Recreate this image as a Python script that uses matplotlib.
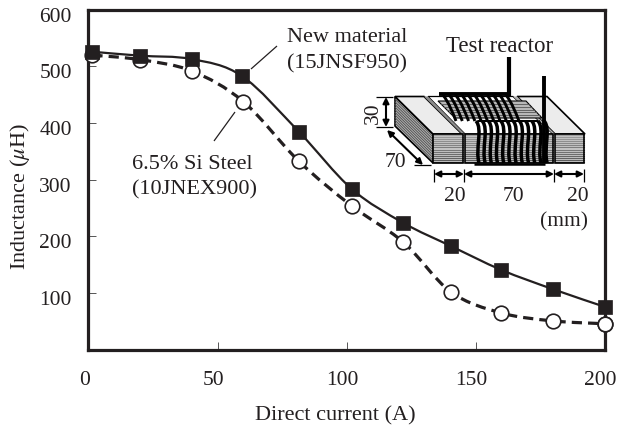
import numpy as np
import matplotlib
matplotlib.use("Agg")
import matplotlib.pyplot as plt
from matplotlib.path import Path
from matplotlib.patches import PathPatch, Polygon
from matplotlib.transforms import ScaledTranslation

plt.rcParams["font.family"] = ["Liberation Serif", "DejaVu Serif"]
plt.rcParams["mathtext.fontset"] = "stix"

# Data
current_new = [1.5, 20, 40, 59.5, 81.5, 102, 122, 140.5, 160, 180, 200]
inductance_new = [526, 519, 513, 483, 385, 284, 224, 183, 141, 107, 76]
current_si = [1.5, 20, 40, 60, 81.5, 102, 122, 140.5, 160, 180, 200]
inductance_si = [520, 512, 492, 438, 333, 254, 190, 102, 65, 51, 46]
x_ticks = [0, 50, 100, 150, 200]
y_ticks = [100, 200, 300, 400, 500, 600]

INK = "#231f20"
W, H = 617, 427
FS = 15.5


def smooth_path(xs, ys):
    # catmull-rom through the measured points, as bezier segments
    pts = np.column_stack([xs, ys]).astype(float)
    verts = [pts[0]]
    codes = [Path.MOVETO]
    for i in range(len(pts) - 1):
        p0 = pts[max(i - 1, 0)]
        p1, p2 = pts[i], pts[i + 1]
        p3 = pts[min(i + 2, len(pts) - 1)]
        verts += [p1 + (p2 - p0) / 6, p2 - (p3 - p1) / 6, p2]
        codes += [Path.CURVE4] * 3
    return Path(verts, codes)


fig = plt.figure(figsize=(W / 100, H / 100), dpi=100)
ax = fig.add_axes([88.5 / W, 1 - 350.8 / H, 516 / W, 340 / H])
ax.set_xlim(0, 200)
ax.set_ylim(0, 600)

for side in ax.spines.values():
    side.set_linewidth(2.3)
    side.set_color(INK)

ax.set_xticks(x_ticks)
ax.set_yticks(y_ticks)
ax.tick_params(direction="in", length=6, width=0.7, color="#555555",
               labelsize=FS, labelcolor=INK, pad=14.5)
ax.tick_params(axis="y", pad=12)
dx = ScaledTranslation(-4 / 100, 0, fig.dpi_scale_trans)
dy = ScaledTranslation(0, -4 / 100, fig.dpi_scale_trans)
for lab in ax.get_xticklabels():
    lab.set_transform(lab.get_transform() + dx)
for lab in ax.get_yticklabels():
    lab.set_transform(lab.get_transform() + dy)

# curves
ax.add_patch(PathPatch(smooth_path(current_si, inductance_si), fill=False,
                       ec=INK, lw=2.3, ls=(0, (3.2, 1.9)), zorder=2))
ax.add_patch(PathPatch(smooth_path(current_new, inductance_new), fill=False,
                       ec=INK, lw=1.6, zorder=3))
ax.plot(current_si, inductance_si, "o", ms=10.5, mfc="white", mec=INK, mew=1.2,
        clip_on=False, zorder=4)
ax.plot(current_new, inductance_new, "s", ms=9.5, mfc=INK, mec=INK, mew=0.5,
        clip_on=False, zorder=5)
ax.plot(current_si[-1], inductance_si[-1], "o", ms=10.5, mfc="white", mec=INK,
        mew=1.2, clip_on=False, zorder=6)

# overlay in image pixels for labels and the reactor sketch
ov = fig.add_axes([0, 0, 1, 1], zorder=10)
ov.set_xlim(0, W)
ov.set_ylim(H, 0)
ov.axis("off")


def txt(x, y, s, ha="center", size=FS, **kw):
    ov.text(x, y, s, ha=ha, va="center", fontsize=size, color=INK, **kw)


def seg(x0, y0, x1, y1, lw=1.0, color=INK, z=3):
    ov.plot([x0, x1], [y0, y1], color=color, lw=lw, solid_capstyle="butt", zorder=z)


def dbl_arrow(x0, y0, x1, y1, lw=1.5):
    ov.annotate("", xy=(x1, y1), xytext=(x0, y0),
                arrowprops=dict(arrowstyle="<|-|>", color="black", lw=lw,
                                mutation_scale=9, shrinkA=0, shrinkB=0))


txt(335, 415.5, "Direct current (A)", size=16)
txt(20, 197, r"Inductance ($\mu$H)", size=16, rotation=90)
txt(287, 37, "New material", ha="left", size=16)
txt(287, 64, "(15JNSF950)", ha="left", size=16)
txt(132, 164.5, "6.5% Si Steel", ha="left", size=16)
txt(132, 190, "(10JNEX900)", ha="left", size=16)
seg(251, 70, 277, 47, lw=0.9)
seg(214, 142, 235, 113, lw=0.9)
txt(500, 47, "Test reactor", size=16.5)


def stripes(x0, x1, y0, y1, n=14):
    ov.add_patch(Polygon([(x0, y0), (x1, y0), (x1, y1), (x0, y1)], fc="#c8c8c8", ec="none", zorder=1))
    for i in range(n):
        y = y0 + (y1 - y0) * (i + 0.5) / n
        g = 0.62 - 0.3 * i / n
        ov.plot([x0, x1], [y, y], color=(g, g, g), lw=0.8, zorder=1.2)
    ov.add_patch(Polygon([(x0, y0), (x1, y0), (x1, y1), (x0, y1)], fc="none", ec="black", lw=1.2, zorder=2))


def draw_reactor():
    # left side face with laminations
    ov.add_patch(Polygon([(395, 97.5), (433, 135), (433, 164), (395, 127)],
                         fc="#b5b5b5", ec="black", lw=1.2, zorder=1))
    for i in range(1, 11):
        off = 29 * i / 11
        ov.plot([395, 433], [97.5 + off, 135 + off], color="#555555", lw=0.7, zorder=1.2)
    # top surfaces
    ov.add_patch(Polygon([(395, 97.5), (424, 97.5), (462, 135), (433, 135)],
                         fc="#ececec", ec="black", lw=1.2, zorder=1))
    ov.add_patch(Polygon([(517, 97.5), (547, 97.5), (585, 135), (555, 135)],
                         fc="#ececec", ec="black", lw=1.2, zorder=1))
    ov.add_patch(Polygon([(428, 97.5), (513, 97.5), (553, 135), (465, 135)],
                         fc="white", ec="black", lw=0.9, zorder=1))
    # air gap bands
    ov.add_patch(Polygon([(424, 97.5), (428, 97.5), (465, 135), (462, 135)],
                         fc="#8c8c8c", ec="none", zorder=1.1))
    ov.add_patch(Polygon([(513, 97.5), (517, 97.5), (555, 135), (553, 135)],
                         fc="#b0b0b0", ec="none", zorder=1.1))
    # window with laminations between the two windings
    ov.add_patch(Polygon([(438, 102), (526, 102), (542, 119), (455, 119)],
                         fc="#b8b8b8", ec="black", lw=0.8, zorder=1.2))
    for i in range(1, 6):
        y = 102 + 17 * i / 6
        ov.plot([438 + (y - 102), 526 + (y - 102)], [y, y], color="#555555", lw=0.6, zorder=1.3)
    # front faces
    stripes(433, 463, 135, 164)
    stripes(465, 553, 135, 164)
    stripes(555, 584, 135, 164)
    # back winding
    for i in range(11):
        x = 443 + i * 6.3
        ov.add_patch(PathPatch(Path([(x, 96), (x + 6, 104), (x + 9, 112), (x + 13, 122)],
                                    [Path.MOVETO, Path.CURVE4, Path.CURVE4, Path.CURVE4]),
                               fill=False, ec="black", lw=2.1, zorder=3))
    seg(439, 95, 511, 95, lw=2.8, color="black", z=3.1)
    # front winding
    for i in range(12):
        x = 476 + i * 6.2
        ov.add_patch(PathPatch(Path([(x, 122), (x + 7, 130), (x - 1, 150), (x + 3, 164)],
                                    [Path.MOVETO, Path.CURVE4, Path.CURVE4, Path.CURVE4]),
                               fill=False, ec="black", lw=2.5, zorder=3))
    seg(474, 164.5, 545, 164.5, lw=1.8, color="black", z=3.1)
    seg(478, 122, 538, 122, lw=1.5, color="black", z=3.1)
    # leads
    seg(509, 58, 509, 97, lw=3.0, color="black", z=3.2)
    seg(544, 77, 544, 164, lw=2.8, color="black", z=3.2)
    # dimensions along the front
    for x in (434, 464, 554, 584):
        seg(x, 170, x, 183, lw=0.9, color="black")
    dbl_arrow(434, 175, 464, 175)
    dbl_arrow(464, 175, 554, 175)
    dbl_arrow(554, 175, 584, 175)
    txt(455, 196.5, "20")
    txt(513, 196.5, "70")
    txt(578, 196.5, "20")
    txt(564, 221.5, "(mm)")
    # dimensions on the left
    seg(376, 97.5, 393, 97.5, lw=0.9, color="black")
    seg(376, 128, 393, 128, lw=0.9, color="black")
    dbl_arrow(386, 98, 386, 128)
    txt(373, 113, "30", rotation=90)
    seg(414, 166, 431, 166, lw=0.9, color="black")
    dbl_arrow(387, 131, 423, 166)
    txt(395, 162.5, "70")


draw_reactor()

fig.savefig("out.png", dpi=100)
